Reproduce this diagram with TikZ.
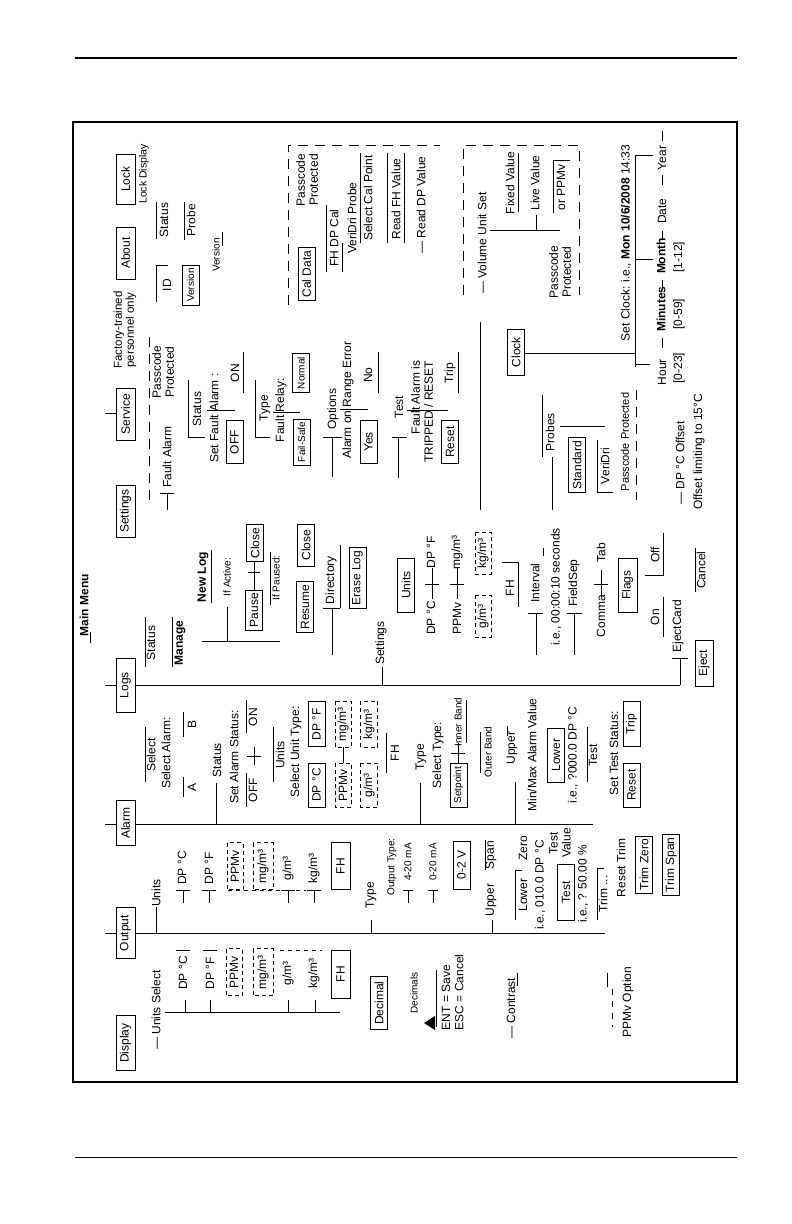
\documentclass[tikz,border=0pt]{standalone}
\usepackage{fontspec}
\setmainfont{Liberation Sans}
\newcommand\dfs{\fontsize{12}{13}\selectfont}
\newcommand\sfs{\fontsize{10}{11}\selectfont}
\begin{document}
\begin{tikzpicture}[x=1pt,y=-1pt,
  t/.style={rotate=90,inner sep=0.5pt,font=\dfs},
  ts/.style={t,font=\sfs},
  bx/.style={t,draw,line width=0.9pt,fill=white,minimum height=17pt,inner xsep=3pt},
  dbx/.style={bx,dash pattern=on 4pt off 3pt},
  ln/.style={line width=1pt},
  dln/.style={line width=1pt,dash pattern=on 10pt off 7pt}]
\useasboundingbox (0,0) rectangle (792,1224);
% page rules and frame
\draw[line width=2.2pt] (75,58) -- (737,58);
\draw[line width=1pt] (75,1157) -- (737,1157);
\draw[line width=1.2pt] (73,122) rectangle (737,1082);

% trunks
\draw[ln] (105,685) -- (680,685);
\draw[ln] (105,824) -- (593,824);
\draw[ln] (105,933) -- (605,933);
\draw[ln] (105,413) -- (116,413);

\node[t,font=\dfs\bfseries] (mm) at (84,605) {Main Menu};
\draw[ln] (90,632) -- (90,643);

% top level boxes
\node[bx,minimum height=19pt,minimum width=50pt] (lock) at (125.5,179) {Lock};
\node[bx,minimum height=19pt,minimum width=52pt] (about) at (125.5,253) {About};
\node[bx,minimum height=19pt,minimum width=52pt] (serv) at (125.5,414) {Service};
\node[bx,minimum height=19pt,minimum width=52pt] (sett) at (125.5,511) {Settings};
\node[bx,minimum height=19pt,minimum width=54pt] (logs) at (125.5,685) {Logs};
\node[bx,minimum height=19pt,minimum width=45pt] (alarm) at (125.5,823) {Alarm};
\node[bx,minimum height=19pt,minimum width=51pt] (outp) at (125.5,933) {Output};
\node[bx,minimum height=19pt,minimum width=55pt] (disp) at (125.5,1043) {Display};

% Lock / About
\node[t,font=\fontsize{10.5}{12}\selectfont] (lockd) at (144,174) {Lock Display};
\draw[ln] (156,202) -- (156,239);
\node[t] (abst) at (164,220) {Status};
\draw[ln] (156,265) -- (156,302) (156,265) -- (168,265);
\node[t] (abid) at (167,285) {ID};
\draw[ln] (184,202) -- (184,240);
\node[t] (abpr) at (191,220) {Probe};
\node[bx,font=\sfs,minimum width=40pt] (abver) at (190.5,285) {Version};
\node[ts] (abver2) at (216,255) {Version};
\draw[ln] (222,232) -- (222,246);
\node[t,align=center,font=\fontsize{11.5}{12}\selectfont] (fact) at (125,330) {Factory-trained\\personnel only};

% Service
\node[t,align=center] (spp) at (163,372) {Passcode\\Protected};
\draw[dln] (149,337) -- (149,503);
\node[t] (sfa) at (167,457) {Fault Alarm};
\draw[ln] (160,493) -- (174,493) (167,493) -- (167,510);
\draw[ln] (188,380) -- (188,437) -- (205,437);
\node[t] (sst) at (197,409) {Status};
\draw[ln] (207,410) -- (235,410);
\node[t] (ssfa) at (214,418) {Set Fault Alarm :};
\node[bx,minimum width=43pt] (soff) at (234.5,442) {OFF};
\node[t] (son) at (235,373) {ON};
\draw[ln] (243,352) -- (243,393);
\draw[ln] (255,380) -- (255,437) -- (270,437);
\node[t] (sty) at (265,408) {Type};
\draw[ln] (273,412) -- (300,412);
\node[t] (sfr) at (281,410) {Fault Relay:};
\node[bx,font=\sfs,minimum width=44pt] (sfs) at (301.5,442) {Fail-Safe};
\node[bx,font=\sfs,minimum width=34pt] (snorm) at (301,373) {Normal};
\draw[ln] (323,437) -- (342,437) (332,437) -- (332,477);
\node[t] (sopt) at (333,409) {Options};
\draw[ln] (340,409) -- (368,409);
\node[t] (saor) at (348,400) {Alarm on Range Error};
\node[bx,minimum width=43pt] (syes) at (368.5,442) {Yes};
\node[t] (sno) at (368,375) {No};
\draw[ln] (378,352) -- (378,393);
\draw[ln] (392,437) -- (407,437) (398,437) -- (398,478);
\node[t] (stest) at (399,407) {Test};
\draw[ln] (407,410) -- (448,410);
\node[t,align=right,anchor=east] (sfai) at (422,360) {Fault Alarm is\\TRIPPED / RESET};
\node[bx,minimum width=43pt] (sreset) at (450,442) {Reset};
\node[t] (strip) at (450,373) {Trip};
\draw[ln] (458,352) -- (458,393);
\draw[ln] (480,322) -- (480,510);

% Probes / offset
\draw[ln] (542,395) -- (542,457) (552,457) -- (552,510) (560,426) -- (605,426);
\node[t] (sprob) at (550,432) {Probes};
\node[bx,minimum width=52pt] (sstd) at (577,465) {Standard};
\draw[ln] (597,440) -- (597,492) -- (613,492);
\node[t] (svd) at (605,466) {VeriDri};
\node[t,font=\fontsize{11}{12}\selectfont] (sppp) at (625,442) {Passcode Protected};
\draw[dln] (636,390) -- (636,500);
\node[t] (sdpo) at (680,463) {— DP °C Offset};
\node[t] (solim) at (699,452) {Offset limiting to 15°C};

% Clock
\draw[ln] (525,353) -- (635,353) (635,155) -- (635,367);
\draw[ln] (635,155) -- (653,155) (635,259) -- (653,259) (635,364) -- (650,364);
\node[bx,minimum width=46pt] (sclk) at (516,352) {Clock};
\node[t] (sclkt) at (626,243) {Set Clock: i.e., \textbf{Mon 10/6/2008} 14:33};
\node[t] (year) at (662,158) {Year};
\node[t] (date) at (662,211) {Date};
\node[t,font=\dfs\bfseries] (month) at (661,256) {Month};
\node[t] (m112) at (679,257) {[1-12]};
\node[t,font=\dfs\bfseries] (minu) at (661,309) {Minutes};
\node[t] (m059) at (679,314) {[0-59]};
\node[t] (hour) at (662,372) {Hour};
\node[t] (m023) at (679,368) {[0-23]};
\draw[ln] (662,131) -- (662,141) (662,175) -- (662,185) (662,231) -- (662,240) (662,280) -- (662,289) (662,338) -- (662,348);

% Cal Data group
\draw[dln] (288,305) -- (288,145) -- (440,145);
\node[t,align=center] (pp1) at (307,180) {Passcode\\Protected};
\node[bx,minimum width=50pt] (cal) at (306.5,274) {Cal Data};
\draw[ln] (326,205) -- (326,272) (342,243) -- (342,272);
\node[t] (fhdp) at (334,238) {FH DP Cal};
\node[t] (vdp) at (352,218) {VeriDri Probe};
\draw[ln] (360,153) -- (360,243);
\node[t] (scp) at (368,198) {Select Cal Point};
\draw[ln] (387,153) -- (387,243) (404,153) -- (404,243);
\node[t] (rfh) at (396,199) {Read FH Value};
\node[t] (rdp) at (421,205) {— Read DP Value};

% second passcode group
\draw[dln] (463,295) -- (463,145) -- (579,145) -- (579,295);
\node[t] (vds) at (482,243) {— Volume Unit Set};
\node[t] (fix) at (510,183) {Fixed Value};
\draw[ln] (518,153) -- (518,212);
\node[t] (live) at (535,183) {Live Value};
\draw[ln] (570,160) -- (553,160) -- (553,213);
\node[t] (ppmv2) at (561,187) {or PPMv};
\draw[ln] (490,230) -- (560,230) (536,215) -- (536,230);
\node[t,align=center] (pp2) at (560,272) {Passcode\\Protected};

% Logs
\draw[ln] (145,617) -- (145,667);
\node[t] (lst) at (151,643) {Status};
\draw[ln] (172,617) -- (172,667);
\node[t,font=\dfs\bfseries] (lman) at (180,643) {Manage};
\draw[ln] (202,641) -- (280,641) (227,607) -- (227,641);
\node[t,font=\dfs\bfseries] (lnew) at (203,577) {New Log};
\draw[ln] (211,550) -- (211,603);
\node[ts] (lifa) at (227,577) {If Active:};
\node[bx,minimum width=40pt] (lpause) at (254,610) {Pause};
\node[bx,minimum width=36pt] (lclose1) at (255,543) {Close};
\draw[ln] (254,561) -- (254,590) (248,572) -- (260,572);
\draw[ln] (270,552) -- (270,605);
\node[ts] (lifp) at (276,578) {If Paused:};
\node[bx,minimum width=44pt] (lres) at (305,607) {Resume};
\node[bx,minimum width=42pt] (lclose2) at (306,545) {Close};
\node[t] (ldir) at (331,580) {Directory};
\draw[ln] (340,545) -- (340,608) (323,608) -- (340,608) (332,608) -- (332,655);
\node[bx,minimum width=58pt] (lerase) at (357.5,578) {Erase Log};
\node[t] (lset) at (381,643) {Settings};
\draw[ln] (382,667) -- (382,685);
\node[bx,minimum width=54pt] (lunits) at (406,585) {Units};
\draw[ln] (432,568) -- (432,599) (425,584) -- (439,584);
\node[t] (ldpc) at (431,618) {DP °C};
\node[t] (ldpf) at (431,552) {DP °F};
\draw[ln] (457,568) -- (457,599) (450,584) -- (464,584);
\node[t] (lppm) at (457,618) {PPMv};
\node[t] (lmg) at (457,552) {mg/m³};
\node[dbx,minimum width=42pt,minimum height=16pt] (lg) at (483,616) {g/m³};
\node[dbx,minimum width=42pt,minimum height=16pt] (lkg) at (483,553) {kg/m³};
\draw[ln] (502,562) -- (518,562) -- (518,607);
\node[t] (lfh) at (510,588) {FH};
\draw[ln] (536,613) -- (536,655) (528,613) -- (543,613) (543,548) -- (543,556);
\node[t] (lint) at (535,583) {Interval};
\node[t] (lie) at (556,587) {i.e., 00:00:10 seconds};
\draw[ln] (574,613) -- (574,655) (567,613) -- (582,613);
\node[t] (lfs) at (574,583) {FieldSep};
\draw[ln] (601,570) -- (601,597) (594,584) -- (608,584);
\node[t] (lcom) at (601,616) {Comma};
\node[t] (ltab) at (601,553) {Tab};
\node[bx,minimum width=54pt,minimum height=19pt] (lflag) at (627.5,585) {Flags};
\node[t] (lon) at (655,617) {On};
\draw[ln] (663,597) -- (663,637);
\node[t] (loff) at (655,555) {Off};
\draw[ln] (663,533) -- (663,575) -- (645,575);
\draw[ln] (680,658) -- (680,685) (672,658) -- (688,658);
\node[t] (lej) at (678,626) {EjectCard};
\draw[ln] (695,548) -- (695,592);
\node[t] (lcan) at (701,570) {Cancel};
\node[bx,minimum width=46pt,minimum height=18pt] (leject) at (704,663) {Eject};

% Alarm
\draw[ln] (145,727) -- (145,782);
\node[t] (asel) at (151,755) {Select};
\node[t] (asela) at (166,753) {Select Alarm:};
\draw[ln] (183,777) -- (183,797) (183,712) -- (183,737);
\node[t] (aA) at (192,787) {A};
\node[t] (aB) at (192,724) {B};
\node[t] (ast) at (217,760) {Status};
\draw[ln] (216,783) -- (216,824);
\node[t] (asas) at (234,757) {Set Alarm Status:};
\draw[ln] (246,773) -- (246,807) (246,700) -- (246,733);
\draw[ln] (254,747) -- (254,765) (247,756) -- (261,756);
\node[t] (aoff) at (253,790) {OFF};
\node[t] (aon) at (253,717) {ON};
\draw[ln] (273,727) -- (273,782);
\node[t] (aun) at (280,755) {Units};
\node[t] (asut) at (296,752) {Select Unit Type:};
\node[bx,minimum width=44pt] (adpc) at (316.5,785) {DP °C};
\node[bx,minimum width=45pt] (adpf) at (316.5,724) {DP °F};
\draw[ln] (343,747) -- (343,763);
\node[dbx,minimum width=44pt,minimum height=16pt] (appm) at (343,785) {PPMv};
\node[dbx,minimum width=46pt,minimum height=16pt] (amg) at (343,724) {mg/m³};
\node[dbx,minimum width=44pt,minimum height=17pt] (ag) at (369,785) {g/m³};
\node[dbx,minimum width=46pt,minimum height=17pt] (akg) at (369,724) {kg/m³};
\draw[ln] (386,733) -- (386,773);
\node[t] (afh) at (395,753) {FH};
\node[t] (aty) at (421,757) {Type};
\draw[ln] (420,783) -- (420,824);
\node[t] (asty) at (438,755) {Select Type:};
\node[bx,font=\sfs,minimum width=44pt] (asp) at (458.5,785) {Setpoint};
\draw[ln] (458,743) -- (458,763) (451,753) -- (465,753) (466,700) -- (466,743);
\node[ts] (aib) at (458,722) {Inner Band};
\draw[ln] (480,732) -- (480,773);
\node[ts] (aob) at (488,752) {Outer Band};
\node[t] (aup) at (512,748) {Upper};
\draw[ln] (515,782) -- (515,824) (507,726) -- (507,736);
\node[t] (amm) at (532,755) {Min/Max Alarm Value};
\node[bx,minimum width=54pt] (alow) at (556,755) {Lower};
\node[t] (aie) at (573,755) {i.e., ?000.0 DP °C};
\draw[ln] (587,727) -- (587,782);
\node[t] (ates) at (593,755) {Test};
\node[t] (asts) at (614,753) {Set Test Status:};
\node[bx,minimum width=44pt] (ares) at (631.5,785) {Reset};
\node[bx,minimum width=45pt] (atrip) at (631.5,724) {Trip};

% Output
\node[t] (oun) at (156,893) {Units};
\draw[ln] (156,907) -- (156,933);
\foreach \p in {183,209,288,314} {\draw[ln] (\p-7,890) -- (\p+7,890) (\p,890) -- (\p,903);}
\draw[line width=1pt,dash pattern=on 4pt off 4pt] (228,890) -- (280,890) (296,890) -- (306,890);
\node[t] (odpc) at (182,868) {DP °C};
\node[t] (odpf) at (209,868) {DP °F};
\node[dbx,minimum width=47pt,minimum height=16pt,fill=none] (oppm) at (235,866) {PPMv};
\node[dbx,minimum width=47pt,minimum height=20pt,fill=none] (omg) at (263,866) {mg/m³};
\node[t] (og) at (288,868) {g/m³};
\node[t] (okg) at (314,868) {kg/m³};
\node[bx,minimum width=47pt,minimum height=19pt] (ofh) at (340.5,866) {FH};
\node[t] (oty) at (371,895) {Type};
\draw[ln] (371,920) -- (371,933);
\node[ts] (ooty) at (392,867) {Output Type:};
\draw[ln] (403,890) -- (413,890) (408,890) -- (408,903) (428,890) -- (438,890) (433,890) -- (433,903);
\node[ts] (o420) at (408,862) {4-20 mA};
\node[ts] (o020) at (433,862) {0-20 mA};
\node[bx,minimum width=48pt] (o02v) at (461.5,865) {0-2 V};
\node[t] (oup) at (491,900) {Upper};
\draw[ln] (492,920) -- (492,933) (485,840) -- (485,870);
\node[t] (ospan) at (491,855) {Span};
\draw[ln] (515,870) -- (515,920) (515,870) -- (522,870);
\node[t] (olow) at (523,895) {Lower};
\node[t] (ozero) at (523,848) {Zero};
\node[t] (oie1) at (540,885) {i.e., 010.0 DP °C};
\node[bx,minimum width=56pt] (otest) at (566,892) {Test};
\node[t,align=center] (otv) at (560,843) {Test\\Value};
\node[t] (oie2) at (583,884) {i.e., ? 50.00 \%};
\draw[ln] (597,868) -- (597,920) (597,868) -- (604,868);
\node[t] (otrim) at (603,894) {Trim ...};
\node[t] (ortr) at (621,868) {Reset Trim};
\node[bx,minimum width=50pt] (otz) at (644,865) {Trim Zero};
\node[bx,minimum width=50pt] (ots) at (671,865) {Trim Span};

% Display
\node[t] (dus) at (156,1010) {— Units Select};
\draw[ln] (165,1012) -- (340,1012);
\foreach \p in {185,210,288,315} {\draw[ln] (\p,1000) -- (\p,1012);}
\draw[ln] (176,950) -- (190,950) (203,950) -- (217,950);
\draw[line width=1pt,dash pattern=on 4pt off 4pt] (280,950) -- (322,950);
\node[t] (ddpc) at (183,973) {DP °C};
\node[t] (ddpf) at (210,973) {DP °F};
\node[dbx,minimum width=47pt,minimum height=16pt,fill=none] (dppmv) at (234,972) {PPMv};
\node[dbx,minimum width=47pt,minimum height=20pt,fill=none] (dmg) at (263,972) {mg/m³};
\node[t] (dg) at (288,973) {g/m³};
\node[t] (dkg) at (314,973) {kg/m³};
\node[bx,minimum width=48pt,minimum height=19pt] (dfh) at (340.5,974) {FH};
\node[bx,minimum width=53pt] (ddec) at (379,1003) {Decimal};
\node[ts] (ddecs) at (414,993) {Decimals};
\fill (424,1023) -- (435,1016) -- (435,1030) -- cycle;
\draw[ln] (436,970) -- (436,1027);
\node[t,anchor=west] (dent) at (446,1031) {ENT = Save};
\node[t,anchor=west] (desc) at (459,1031) {ESC = Cancel};
\node[t] (dcon) at (511,1008) {— Contrast};
\draw[ln] (517,973) -- (517,986);
\draw[ln] (607,973) -- (607,987);
\draw[line width=1pt,dash pattern=on 6pt off 6pt] (612,989) -- (612,1027);
\node[t] (dppm) at (628,1002) {PPMv Option};
\end{tikzpicture}
\end{document}
